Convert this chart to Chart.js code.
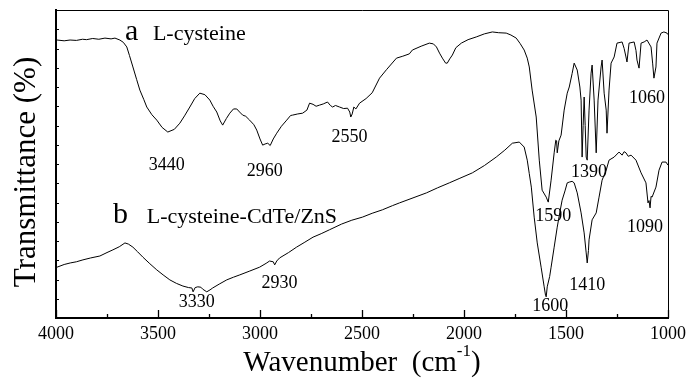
<!DOCTYPE html>
<html><head><meta charset="utf-8">
<script src="https://cdn.jsdelivr.net/npm/chart.js@4.4.0/dist/chart.umd.min.js"></script>
<style>html,body{margin:0;padding:0;background:#fff}#wrap{width:691px;height:379px}</style>
</head><body><div id="wrap"><canvas id="c" width="691" height="379"></canvas></div>
<script>
// ---- data ----
const wavenumberA = [3995,3960,3931,3900,3870,3850,3820,3790,3760,3730,3711,3687,3670,3653,3640,3623,3605,3589,3570,3555,3530,3506,3480,3452,3420,3393,3370,3344,3320,3295,3270,3246,3230,3212,3195,3183,3165,3148,3130,3114,3100,3085,3070,3051,3030,3016,3000,2987,2975,2962,2950,2935,2918,2895,2869,2850,2840,2815,2791,2770,2757,2740,2725,2708,2690,2669,2655,2644,2630,2610,2590,2571,2560,2555,2548,2540,2530,2512,2480,2450,2414,2380,2331,2300,2268,2253,2210,2170,2150,2135,2120,2106,2090,2082,2070,2057,2040,2013,1980,1940,1900,1861,1830,1793,1770,1744,1725,1705,1690,1680,1666,1646,1631,1617,1597,1587,1573,1558,1550,1546,1543,1535,1524,1509,1494,1484,1470,1460,1445,1432,1426,1421,1416,1411,1406,1401,1396,1387,1377,1372,1362,1352,1343,1328,1323,1313,1303,1299,1289,1279,1264,1250,1225,1215,1206,1201,1191,1166,1157,1152,1142,1132,1117,1103,1083,1075,1069,1059,1054,1034,1020,1005,1000];
const transA = [72.2,72.0,72.2,72.1,72.4,72.3,72.6,72.4,72.7,72.5,72.7,72.2,71.6,70.4,68.2,65.2,62.0,59.2,56.8,54.8,52.8,51.4,49.5,48.3,49.0,50.6,52.5,54.8,57.0,58.4,58.0,56.6,55.0,53.5,51.2,50.1,51.8,53.2,54.3,54.3,53.5,52.7,52.4,51.4,50.2,48.8,46.5,44.9,45.2,45.4,44.8,46.5,48.0,49.8,51.4,52.6,52.7,53.0,53.2,54.0,55.8,55.5,55.0,55.3,55.6,56.1,55.2,54.8,55.2,54.8,54.4,54.5,53.5,52.2,53.0,54.8,54.3,55.8,57.0,58.5,62.3,64.5,67.5,68.0,68.6,69.6,70.6,71.4,71.2,70.4,68.8,67.5,66.2,66.2,67.3,68.3,70.2,71.4,72.3,73.0,73.8,74.3,74.1,74.0,73.5,72.7,71.3,69.6,67.5,65.2,59.2,52.2,41.0,33.2,31.4,30.1,35.8,42.9,46.2,46.0,42.9,46.0,47.5,54.0,58.4,60.0,63.5,66.2,64.4,60.0,56.6,41.8,50.0,57.4,50.0,41.8,41.0,54.0,63.6,65.7,56.6,42.9,56.6,65.2,67.0,58.4,54.0,48.0,59.2,66.2,67.8,71.4,71.7,70.0,67.8,66.5,71.4,71.7,69.5,67.0,64.9,71.4,71.7,72.2,70.4,66.0,62.3,65.2,71.4,74.0,74.3,74.0,73.6];
const wavenumberB = [3995,3960,3930,3900,3868,3830,3785,3750,3721,3690,3662,3645,3623,3600,3574,3540,3506,3475,3442,3410,3378,3350,3334,3328,3318,3305,3290,3281,3261,3245,3232,3200,3163,3130,3099,3050,3002,2970,2953,2935,2928,2918,2904,2860,2821,2780,2740,2700,2660,2600,2550,2498,2450,2400,2350,2316,2250,2184,2130,2072,2020,1959,1900,1842,1800,1763,1729,1705,1690,1680,1670,1656,1641,1622,1607,1600,1597,1592,1580,1573,1558,1543,1530,1519,1505,1494,1484,1470,1460,1445,1426,1411,1401,1396,1390,1387,1372,1352,1338,1323,1303,1289,1264,1240,1225,1215,1206,1195,1181,1157,1132,1108,1098,1093,1088,1083,1078,1059,1044,1029,1010,1000];
const transB = [13.2,13.9,14.3,14.6,15.1,15.6,16.1,17.0,17.7,18.5,19.5,19.2,18.4,17.2,15.8,14.1,12.5,11.2,9.9,9.0,8.3,7.9,7.8,6.8,7.9,8.1,8.0,7.5,6.8,7.3,7.8,8.8,9.9,10.6,11.2,12.2,13.2,14.2,14.8,14.6,13.8,14.8,15.6,17.0,18.4,19.7,21.0,21.9,22.9,24.4,25.4,26.2,27.2,28.1,29.2,29.9,31.2,32.5,33.8,35.1,36.3,37.7,39.6,41.8,43.6,45.4,45.7,44.4,41.0,37.5,34.0,26.2,19.5,13.2,8.1,5.8,5.5,8.1,10.8,13.2,18.4,23.6,27.5,30.6,33.0,35.1,35.3,35.5,35.1,32.5,27.3,22.1,16.9,14.3,17.5,20.3,25.5,27.3,31.4,35.8,38.4,41.0,41.8,43.1,42.3,43.2,42.9,42.0,42.3,41.0,37.7,35.1,29.9,30.5,28.6,31.6,31.4,34.0,38.4,40.5,40.5,39.7];
const xTickValues = [4000,3500,3000,2500,2000,1500,1000];
const seriesLetters = ['a','b'];
const seriesNames = ['L-cysteine','L-cysteine-CdTe/ZnS'];
const peakNames = ['3440','2960','2550','1060','1390','1590','1090','1410','1600','3330','2930'];
const peakLabelWn = [3457,2977,2561,1103,1387,1563,1113,1396,1577,3310,2904];
const peakLabelT = [39.7,38.2,47.0,57.1,37.9,26.5,23.6,8.6,3.1,4.2,9.1];

const SERIF = '"Liberation Serif", "Times New Roman", serif';

const decor = {
  id: 'decor',
  afterDraw(chart) {
    const ctx = chart.ctx, ca = chart.chartArea;
    const xs = chart.scales.x, ys = chart.scales.y;
    ctx.save();
    ctx.strokeStyle = '#000';
    // top & right frame
    ctx.lineWidth = 1;
    ctx.beginPath();
    ctx.moveTo(ca.left, ca.top + 0.5); ctx.lineTo(ca.right + 0.5, ca.top + 0.5);
    ctx.lineTo(ca.right + 0.5, ca.bottom);
    ctx.stroke();
    // inner x ticks
    ctx.lineWidth = 1.3;
    for (let v = 1000; v <= 4000; v += 250) {
      const px = Math.round(xs.getPixelForValue(v)) + 0.5;
      const len = (v % 500 === 0) ? 8 : 4;
      ctx.beginPath(); ctx.moveTo(px, ca.bottom); ctx.lineTo(px, ca.bottom - len); ctx.stroke();
    }
    // inner y ticks
    ctx.lineWidth = 1;
    for (let v = 5; v < 80; v += 5) {
      const py = Math.round(ys.getPixelForValue(v)) + 0.5;
      ctx.beginPath(); ctx.moveTo(ca.left, py); ctx.lineTo(ca.left + 3, py); ctx.stroke();
    }
    ctx.fillStyle = '#000';
    // peak labels
    ctx.font = '18px ' + SERIF;
    ctx.textAlign = 'center'; ctx.textBaseline = 'middle';
    peakNames.forEach((t, i) => {
      ctx.fillText(t, xs.getPixelForValue(peakLabelWn[i]), ys.getPixelForValue(peakLabelT[i]));
    });
    // series labels
    ctx.textAlign = 'left'; ctx.textBaseline = 'alphabetic';
    const letterWn = [3662, 3721], nameWn = [3525, 3555], lblT = [72.2, 24.7];
    seriesLetters.forEach((t, i) => {
      ctx.font = '30px ' + SERIF;
      ctx.fillText(t, xs.getPixelForValue(letterWn[i]), ys.getPixelForValue(lblT[i]));
      ctx.font = '22px ' + SERIF;
      ctx.fillText(seriesNames[i], xs.getPixelForValue(nameWn[i]), ys.getPixelForValue(lblT[i]));
    });
    // y title
    ctx.save();
    ctx.translate(27, 172);
    ctx.rotate(-Math.PI / 2);
    ctx.font = '31px ' + SERIF;
    ctx.textAlign = 'center'; ctx.textBaseline = 'middle';
    ctx.fillText('Transmittance (%)', 0, 0);
    ctx.restore();
    // x title with superscript
    const parts = [['Wavenumber  (cm', 29, 0], ['-1', 17, -15], [')', 29, 0]];
    let total = 0;
    parts.forEach(p => { ctx.font = p[1] + 'px ' + SERIF; p.push(ctx.measureText(p[0]).width); total += p[3]; });
    let x0 = (ca.left + ca.right) / 2 - total / 2;
    const base = 371;
    ctx.textAlign = 'left'; ctx.textBaseline = 'alphabetic';
    parts.forEach(p => { ctx.font = p[1] + 'px ' + SERIF; ctx.fillText(p[0], x0, base + p[2]); x0 += p[3]; });
    ctx.restore();
  }
};

new Chart(document.getElementById('c'), {
  type: 'scatter',
  data: {
    datasets: [
      { label: seriesNames[0], data: wavenumberA.map((w, i) => ({x: w, y: transA[i]})), showLine: true, borderColor: '#000', borderWidth: 1, pointRadius: 0, tension: 0 },
      { label: seriesNames[1], data: wavenumberB.map((w, i) => ({x: w, y: transB[i]})), showLine: true, borderColor: '#000', borderWidth: 1, pointRadius: 0, tension: 0 }
    ]
  },
  options: {
    responsive: false, devicePixelRatio: 1, animation: false,
    layout: { padding: { top: 10, right: 22, left: 0, bottom: 0 } },
    plugins: { legend: { display: false }, tooltip: { enabled: false } },
    scales: {
      x: {
        type: 'linear', reverse: true, min: 1000, max: 4000,
        afterBuildTicks: s => { s.ticks = xTickValues.map(v => ({value: v})); },
        afterFit: s => { s.height = 61; },
        ticks: { color: '#000', font: { family: SERIF, size: 18 }, padding: 5, maxRotation: 0, autoSkip: false, callback: v => String(v) },
        grid: { display: true, drawOnChartArea: false, drawTicks: false },
        border: { display: true, color: '#000', width: 2 }
      },
      y: {
        min: 0, max: 80,
        afterFit: s => { s.width = 56; },
        ticks: { display: false },
        grid: { display: true, drawOnChartArea: false, drawTicks: false },
        border: { display: true, color: '#000', width: 2 }
      }
    }
  },
  plugins: [decor]
});
</script>
</body></html>
